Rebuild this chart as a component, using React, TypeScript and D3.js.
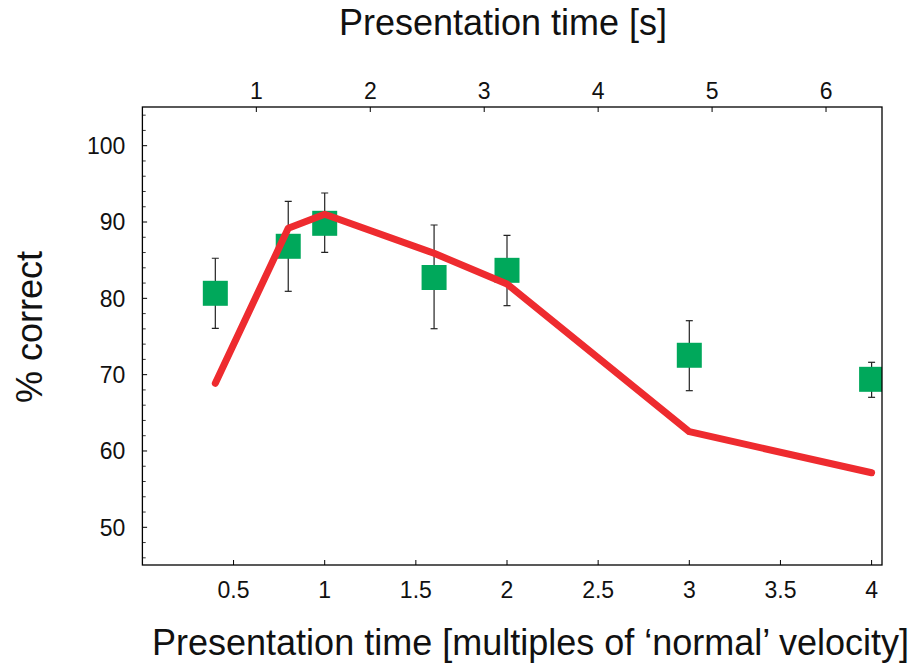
import React from "react";
import * as d3 from "d3";

const xValues = [0.4, 0.8, 1.0, 1.6, 2.0, 3.0, 4.0];
const meanValues = [80.66, 86.82, 89.83, 82.73, 83.67, 72.54, 69.39];
const errHigh = [85.25, 92.71, 93.8, 89.61, 88.26, 77.07, 71.62];
const errLow = [76.07, 80.92, 86.03, 76.02, 79.04, 67.9, 67.03];
const modelValues = [68.87, 89.18, 91.01, 85.9, 81.88, 62.53, 57.15];
const bottomTicks = [0.5, 1, 1.5, 2, 2.5, 3, 3.5, 4];
const topTicks = [1, 2, 3, 4, 5, 6];
const yTicks = [50, 60, 70, 80, 90, 100];

const W = 915;
const H = 664;
const L = 142.4;
const R = 882;
const T = 107;
const B = 565;
const FONT = "Helvetica, 'Liberation Sans', Arial, sans-serif";

export default function App() {
  const xMax = (R - L) / 182.3;
  const x = d3.scaleLinear().domain([0, xMax]).range([L, R]);
  const xTop = d3.scaleLinear().domain([0, xMax * 1.6]).range([L, R]);
  const y = d3.scaleLinear().domain([45.06, 105.07]).range([B, T]);
  const minorY = d3.range(46, 105, 2).filter((v) => v % 10 !== 0);
  const line = d3
    .line<number>()
    .x((_, i) => x(xValues[i]))
    .y((d) => y(d));
  const sq = 25;

  return (
    <svg
      width={W}
      height={H}
      style={{ position: "absolute", left: 0, top: 0, background: "#fff" }}
      fontFamily={FONT}
    >
      <defs>
        <clipPath id="plotclip">
          <rect x={L} y={T} width={R - L} height={B - T} />
        </clipPath>
      </defs>
      <rect x={0} y={0} width={W} height={H} fill="#fff" />

      {/* ticks */}
      {yTicks.map((t) => (
        <g key={"y" + t}>
          <line x1={L} x2={L + 4.7} y1={y(t)} y2={y(t)} stroke="#000" strokeWidth={1} />
          <text x={L - 17} y={y(t)} dy="0.36em" textAnchor="end" fontSize={23} fill="#111">
            {t}
          </text>
        </g>
      ))}
      {minorY.map((t) => (
        <line key={"my" + t} x1={L} x2={L + 3.3} y1={y(t)} y2={y(t)} stroke="#000" strokeWidth={0.8} />
      ))}
      {bottomTicks.map((t) => (
        <g key={"b" + t}>
          <line x1={x(t)} x2={x(t)} y1={B} y2={B - 5} stroke="#000" strokeWidth={1} />
          <text x={x(t)} y={598} textAnchor="middle" fontSize={23} fill="#111">
            {t}
          </text>
        </g>
      ))}
      {topTicks.map((t) => (
        <g key={"t" + t}>
          <line x1={xTop(t)} x2={xTop(t)} y1={T} y2={T + 5} stroke="#000" strokeWidth={1} />
          <text x={xTop(t)} y={99} textAnchor="middle" fontSize={23} fill="#111">
            {t}
          </text>
        </g>
      ))}

      {/* data */}
      <g clipPath="url(#plotclip)">
        {xValues.map((xv, i) => (
          <g key={"e" + i} stroke="#222" strokeWidth={1.2}>
            <line x1={x(xv)} x2={x(xv)} y1={y(errHigh[i])} y2={y(errLow[i])} />
            <line x1={x(xv) - 3.5} x2={x(xv) + 3.5} y1={y(errHigh[i])} y2={y(errHigh[i])} />
            <line x1={x(xv) - 3.5} x2={x(xv) + 3.5} y1={y(errLow[i])} y2={y(errLow[i])} />
          </g>
        ))}
        {xValues.map((xv, i) => (
          <rect
            key={"s" + i}
            x={x(xv) - sq / 2}
            y={y(meanValues[i]) - sq / 2}
            width={sq}
            height={sq}
            fill="#00A85B"
          />
        ))}
        <path
          d={line(modelValues) || ""}
          fill="none"
          stroke="#EE2B2F"
          strokeWidth={7}
          strokeLinecap="round"
          strokeLinejoin="round"
        />
      </g>

      {/* frame */}
      <rect x={L} y={T} width={R - L} height={B - T} fill="none" stroke="#000" strokeWidth={1.3} />

      {/* titles */}
      <text x={503} y={35} textAnchor="middle" fontSize={36} fill="#111">
        Presentation time [s]
      </text>
      <text x={530.5} y={655} textAnchor="middle" fontSize={36} fill="#111">
        Presentation time [multiples of ‘normal’ velocity]
      </text>
      <text
        transform={`translate(42, 327) rotate(-90)`}
        textAnchor="middle"
        fontSize={36}
        fill="#111"
      >
        % correct
      </text>
    </svg>
  );
}
